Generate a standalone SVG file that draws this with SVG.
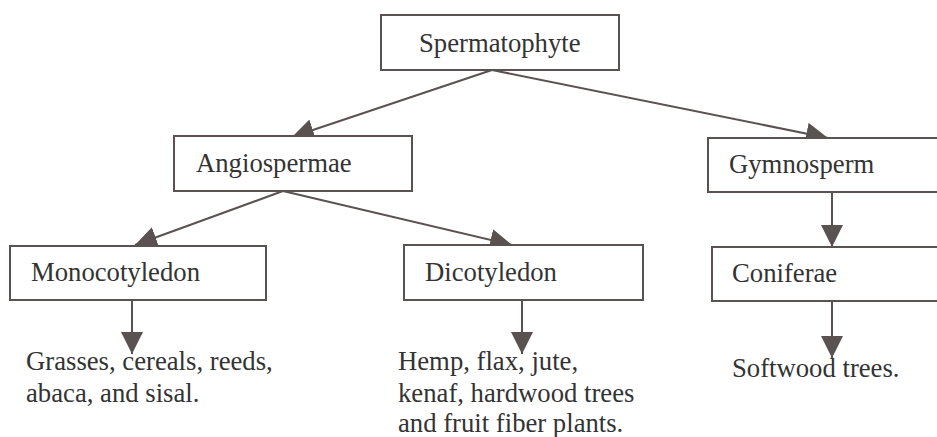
<svg xmlns="http://www.w3.org/2000/svg" width="937" height="437" viewBox="0 0 937 437">
<style>
.box{fill:#fff;stroke:#5a5250;stroke-width:2}
.t{font-family:"Liberation Serif","Times New Roman",serif;font-size:26.7px;fill:#333}
.c{stroke:#5a5250;stroke-width:2;fill:none;marker-end:url(#ah)}
</style>
<defs>
<marker id="ah" markerUnits="userSpaceOnUse" markerWidth="22" markerHeight="22" viewBox="0 0 20 20" refX="20" refY="10" orient="auto">
<path d="M0,0 L20,10 L0,20 Z" fill="#5a5250"/>
</marker>
</defs>
<rect width="937" height="437" fill="#fff"/>
<g id="connectors">
<line class="c" x1="492" y1="70" x2="292" y2="137"/>
<line class="c" x1="492" y1="70" x2="828" y2="138"/>
<line class="c" x1="283" y1="191" x2="135" y2="245"/>
<line class="c" x1="283" y1="191" x2="512" y2="245"/>
<line class="c" x1="132" y1="300" x2="132" y2="354"/>
<line class="c" x1="522" y1="300" x2="522" y2="354"/>
<line class="c" x1="832" y1="192" x2="832" y2="247"/>
<line class="c" x1="832" y1="301" x2="832" y2="358"/>
</g>
<g id="spermatophyte">
<rect class="box" x="381" y="15" width="238" height="55"/>
<text class="t" x="419" y="52">Spermatophyte</text>
</g>
<g id="angiospermae">
<rect class="box" x="174" y="136" width="238" height="55"/>
<text class="t" x="196" y="172">Angiospermae</text>
</g>
<g id="gymnosperm">
<rect class="box" x="708" y="138" width="240" height="54"/>
<text class="t" x="729" y="173">Gymnosperm</text>
</g>
<g id="monocotyledon">
<rect class="box" x="10" y="246" width="256" height="54"/>
<text class="t" x="31" y="281">Monocotyledon</text>
</g>
<g id="dicotyledon">
<rect class="box" x="404" y="245" width="239" height="55"/>
<text class="t" x="425" y="281">Dicotyledon</text>
</g>
<g id="coniferae">
<rect class="box" x="712" y="247" width="240" height="54"/>
<text class="t" x="732" y="282">Coniferae</text>
</g>
<g id="monocot-examples">
<text class="t" x="26" y="370">Grasses, cereals, reeds,</text>
<text class="t" x="26" y="402">abaca, and sisal.</text>
</g>
<g id="dicot-examples">
<text class="t" x="398" y="370">Hemp, flax, jute,</text>
<text class="t" x="398" y="402">kenaf, hardwood trees</text>
<text class="t" x="398" y="432">and fruit fiber plants.</text>
</g>
<g id="conifer-examples">
<text class="t" x="732" y="377">Softwood trees.</text>
</g>
</svg>
